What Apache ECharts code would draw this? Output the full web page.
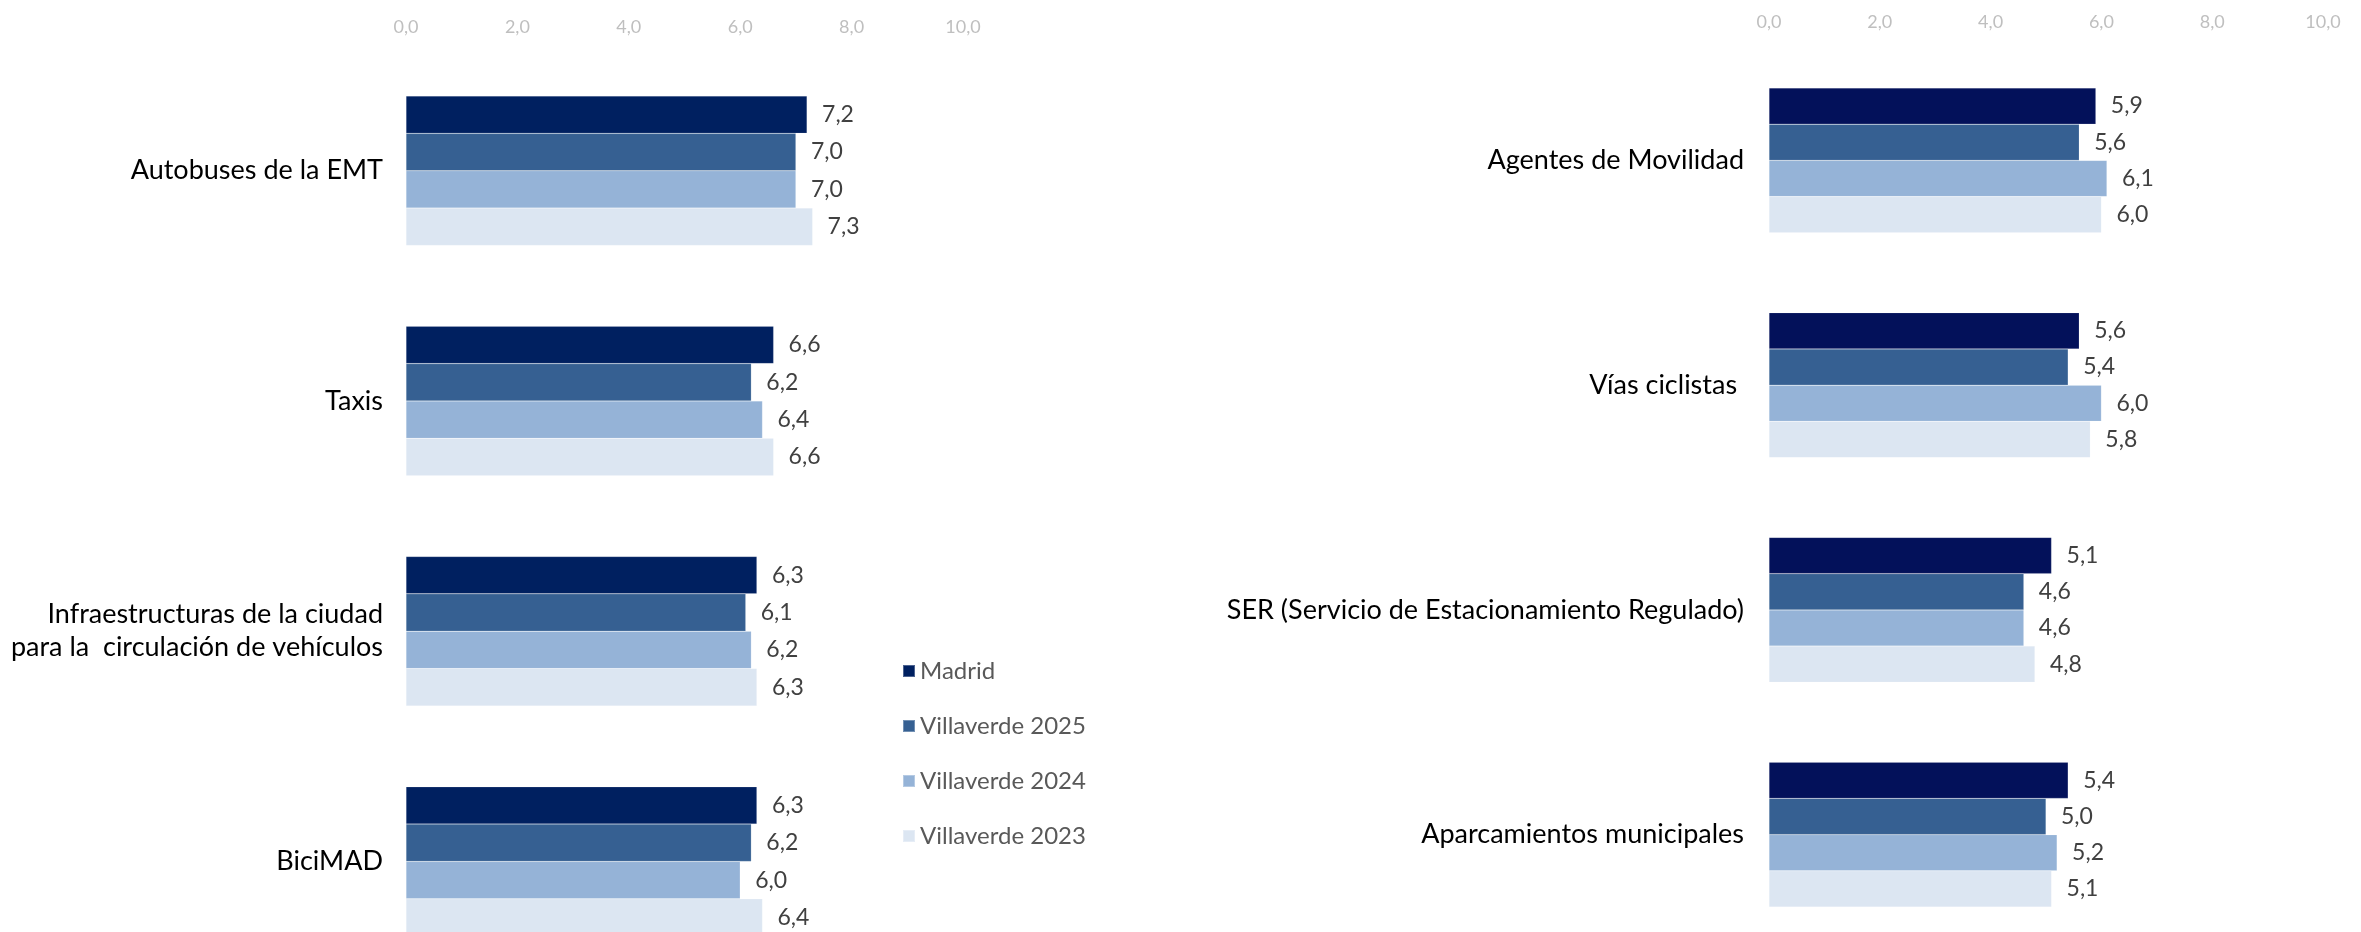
<!DOCTYPE html>
<html lang="es">
<head>
<meta charset="UTF-8">
<title>Valoración servicios movilidad</title>
<script src="https://cdn.jsdelivr.net/npm/echarts@6/dist/echarts.min.js"></script>
<style>
  html, body { margin: 0; padding: 0; background: #fff; }
  #main { width: 2361px; height: 932px; }
</style>
</head>
<body>
<div id="main"></div>
<script>
// datos
var seriesNames = ['Madrid', 'Villaverde 2025', 'Villaverde 2024', 'Villaverde 2023'];
var tickLabels = ['0,0', '2,0', '4,0', '6,0', '8,0', '10,0'];

var leftCats = ['Autobuses de la EMT', 'Taxis', 'Infraestructuras de la ciudad\npara la  circulación de vehículos', 'BiciMAD'];
var leftMadrid = [7.2, 6.6, 6.3, 6.3];
var left2025 = [7.0, 6.2, 6.1, 6.2];
var left2024 = [7.0, 6.4, 6.2, 6.0];
var left2023 = [7.3, 6.6, 6.3, 6.4];

var rightCats = ['Agentes de Movilidad', 'Vías ciclistas ', 'SER (Servicio de Estacionamiento Regulado)', 'Aparcamientos municipales'];
var rightMadrid = [5.9, 5.6, 5.1, 5.4];
var right2025 = [5.6, 5.4, 4.6, 5.0];
var right2024 = [6.1, 6.0, 4.6, 5.2];
var right2023 = [6.0, 5.8, 4.8, 5.1];

var leftColors = ['#002060', '#366092', '#95b3d7', '#dce6f2'];
var rightColors = ['#03115a', '#366092', '#95b3d7', '#dce6f2'];

var myChart = echarts.init(document.getElementById('main'));

function xAx(idx, margin) {
    return {
        type: 'value', gridIndex: idx, position: 'top', min: 0, max: 10, interval: 2,
        axisLine: { show: false }, axisTick: { show: false }, splitLine: { show: false },
        axisLabel: {
            margin: margin, color: '#bfbfbf', fontSize: 18, fontFamily: 'Lato',
            formatter: function (v) { return tickLabels[v / 2]; }
        }
    };
}
function yAx(idx, cats, margin) {
    return {
        type: 'category', gridIndex: idx, data: cats, inverse: true,
        axisLine: { show: false }, axisTick: { show: false }, splitLine: { show: false },
        axisLabel: { margin: margin, color: '#000', fontSize: 27, lineHeight: 33, fontFamily: 'Lato', align: 'right' }
    };
}
function bar(name, idx, data, color, gap) {
    return {
        name: name, type: 'bar', xAxisIndex: idx, yAxisIndex: idx, data: data,
        barGap: '0%', barCategoryGap: gap,
        itemStyle: { color: color, borderColor: 'rgba(255,255,255,0.3)', borderWidth: 0.5 },
        label: {
            show: true, position: 'right', distance: 15, color: '#404040', fontSize: 23, fontFamily: 'Lato',
            formatter: function (p) { return p.value.toFixed(1).replace('.', ','); }
        }
    };
}

var leftSets = [leftMadrid, left2025, left2024, left2023];
var rightSets = [rightMadrid, right2025, right2024, right2023];
var series = [];
seriesNames.forEach(function (n, i) { series.push(bar(n, 0, leftSets[i], leftColors[i], '35.1%')); });
seriesNames.forEach(function (n, i) { series.push(bar(n, 1, rightSets[i], rightColors[i], '35.5%')); });

var option = {
    animation: false,
    backgroundColor: '#fff',
    legend: {
        orient: 'vertical', left: 897, top: 654,
        data: seriesNames,
        icon: 'rect', itemWidth: 12, itemHeight: 12, itemGap: 31,
        textStyle: { color: '#595959', fontSize: 24, lineHeight: 24, fontFamily: 'Lato' }
    },
    grid: [
        { left: 406, width: 557, top: 55.6, height: 921, outerBoundsMode: 'none' },
        { left: 1769, width: 554, top: 48, height: 899, outerBoundsMode: 'none' }
    ],
    xAxis: [xAx(0, 19), xAx(1, 17)],
    yAxis: [yAx(0, leftCats, 23), yAx(1, rightCats, 25)],
    series: series
};

myChart.setOption(option);
</script>
</body>
</html>
